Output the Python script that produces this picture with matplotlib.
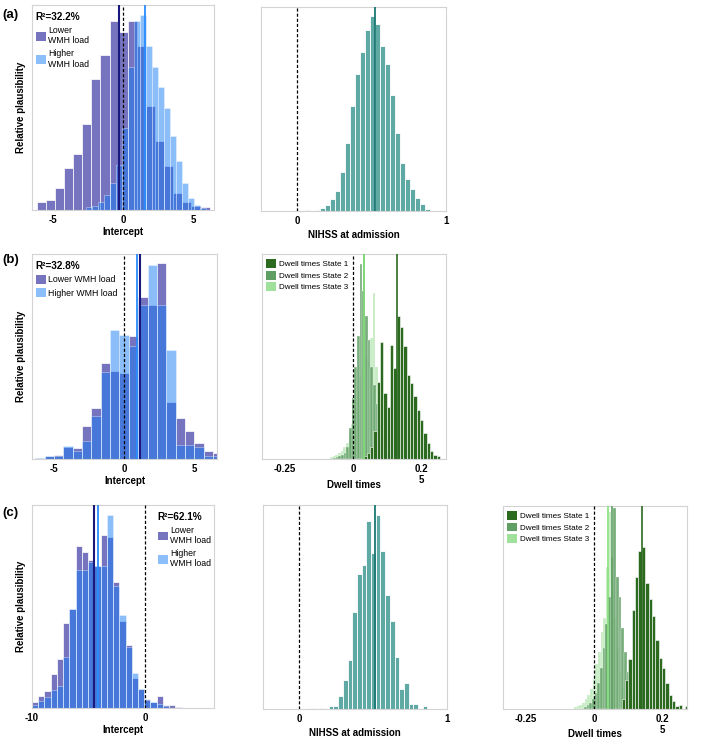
import numpy as np
import matplotlib
matplotlib.use('Agg')
import matplotlib.pyplot as plt
from matplotlib.patches import Patch

plt.rcParams['font.family'] = ['Liberation Sans', 'DejaVu Sans']

# ---------------- data ----------------
# (a) Intercept: Lower / Higher WMH load (relative plausibility)
a_lower_start, a_lower_width = -6.16, 0.65
a_lower = [0.037, 0.049, 0.106, 0.203, 0.272, 0.42, 0.637, 0.754, 0.923, 0.869,
           0.923, 0.80, 0.508, 0.336, 0.213, 0.082, 0.038, 0.021, 0.013]
a_higher_start, a_higher_width = -2.64, 0.43
a_higher = [0.013, 0.02, 0.04, 0.075, 0.13, 0.22, 0.40, 0.70, 0.92, 0.95,
            0.80, 0.70, 0.60, 0.50, 0.36, 0.24, 0.13, 0.06, 0.025, 0.01]
a_means = [-0.29, 1.57]
a_r2 = "R²=32.2%"

# (a) NIHSS at admission
a_nihss_start, a_nihss_width = 0.052, 0.0337
a_nihss = [0.005, 0.0, 0.003, 0.015, 0.03, 0.057, 0.10, 0.19, 0.334, 0.517, 0.67,
           0.777, 0.887, 0.954, 0.918, 0.81, 0.72, 0.57, 0.38, 0.233, 0.157,
           0.106, 0.064, 0.034, 0.008]
a_nihss_mean = 0.519

# (b) Intercept
b_start, b_width = -6.36, 0.667
b_lower = [0.003, 0.013, 0.02, 0.06, 0.055, 0.16, 0.25, 0.47, 0.427, 0.42,
           0.60, 0.79, 0.75, 0.955, 0.28, 0.20, 0.135, 0.08, 0.037, 0.03]
b_higher = [0.005, 0.013, 0.015, 0.065, 0.04, 0.09, 0.21, 0.425, 0.63, 0.605,
            0.55, 0.75, 0.946, 0.75, 0.53, 0.07, 0.07, 0.06, 0.015, 0.015]
b_means = [1.09, 0.86]
b_r2 = "R²=32.8%"

# (b) Dwell times
b_s1_start, b_s1_width = 0.038, 0.01225
b_s1 = [0.015, 0.03, 0.06, 0.135, 0.378, 0.573, 0.32, 0.256, 0.557, 0.443, 0.70,
        0.646, 0.55, 0.41, 0.37, 0.305, 0.24, 0.19, 0.127, 0.078, 0.037, 0.02, 0.013]
b_s2_start, b_s2_width = -0.074, 0.0098
b_s2 = [0.005, 0.01, 0.015, 0.02, 0.03, 0.06, 0.15, 0.30, 0.45, 0.60, 0.95,
        0.82, 0.70, 0.58, 0.45, 0.36, 0.27, 0.18, 0.11, 0.06, 0.03, 0.015]
b_s3_start, b_s3_width = -0.085, 0.0098
b_s3 = [0.01, 0.015, 0.02, 0.03, 0.04, 0.06, 0.08, 0.12, 0.17, 0.25, 0.33, 0.40,
        0.45, 0.50, 0.48, 0.59, 0.81, 0.45, 0.30, 0.15, 0.08, 0.04, 0.02]
b_dwell_means = [0.163, 0.040, 0.042]

# (c) Intercept
c_start, c_width = -10.0, 0.55
c_lower = [0.03, 0.058, 0.084, 0.166, 0.243, 0.42, 0.49, 0.80, 0.77, 0.73, 0.70,
           0.85, 0.84, 0.62, 0.43, 0.31, 0.15, 0.095, 0.046, 0.03, 0.058, 0.013,
           0.013, 0.005]
c_higher = [0.013, 0.035, 0.054, 0.09, 0.11, 0.25, 0.49, 0.68, 0.68, 0.72, 0.70,
            0.70, 0.95, 0.60, 0.457, 0.30, 0.17, 0.095, 0.038, 0.03, 0.018, 0.008]
c_means = [-4.53, -4.15]
c_r2 = "R²=62.1%"

# (c) NIHSS at admission
c_nihss_start, c_nihss_width = 0.073, 0.0318
c_nihss = [0.005, 0.0, 0.005, 0.0, 0.013, 0.013, 0.062, 0.144, 0.241, 0.475, 0.662,
           0.706, 0.92, 0.765, 0.95, 0.775, 0.56, 0.43, 0.254, 0.098, 0.127, 0.026,
           0.026, 0.0, 0.013]
c_nihss_mean = 0.516

# (c) Dwell times
c_s1_start, c_s1_width = 0.102, 0.0123
c_s1 = [0.05, 0.144, 0.246, 0.49, 0.65, 0.78, 0.80, 0.62, 0.54, 0.46, 0.34, 0.25,
        0.20, 0.13, 0.07, 0.04, 0.015, 0.02, 0.0, 0.015]
c_s2_start, c_s2_width = -0.037, 0.0098
c_s2 = [0.01, 0.02, 0.03, 0.05, 0.08, 0.13, 0.20, 0.30, 0.42, 0.55, 0.75, 0.99,
        0.65, 0.55, 0.40, 0.28, 0.18, 0.10, 0.06, 0.03, 0.015]
c_s3_start, c_s3_width = -0.074, 0.0098
c_s3 = [0.01, 0.015, 0.02, 0.03, 0.05, 0.07, 0.10, 0.15, 0.22, 0.28, 0.38, 0.45,
        0.70, 0.97, 0.60, 0.45, 0.30, 0.18, 0.10, 0.05, 0.03, 0.015]
c_dwell_means = [0.175, 0.067, 0.053]

group_labels_wrap = ["Lower\nWMH load", "Higher\nWMH load"]
group_labels_line = ["Lower WMH load", "Higher WMH load"]
state_labels = ["Dwell times State 1", "Dwell times State 2", "Dwell times State 3"]
panel_tags = ["(a)", "(b)", "(c)"]

# ---------------- style ----------------
C_LOW = '#7674be'
C_HIGH = '#197df5'
C_LOW_LINE = '#18187e'
C_HIGH_LINE = '#2a8cff'
C_TEAL = '#5fa9a5'
C_TEAL_LINE = '#1b7873'
C_S1 = '#2c6a20'
C_S2 = '#5f9f63'
C_S3 = '#9fe09a'
C_S3_LINE = '#86e07c'
SPINE = '#d3d3d3'

fig = plt.figure(figsize=(7.09, 7.40), dpi=100)


def axes_px(x0, y0, x1, y1):
    W, H = 709.0, 740.0
    return fig.add_axes([x0 / W, 1 - y1 / H, (x1 - x0) / W, (y1 - y0) / H])


def bars(ax, start, width, heights, **kw):
    left = start + width * np.arange(len(heights))
    return ax.bar(left, heights, width=width, align='edge', **kw)


def style(ax, xlim, ticks, labels, xlabel, label_y, ylabel=None):
    ax.set_xlim(*xlim)
    ax.set_ylim(0, 1)
    ax.set_yticks([])
    ax.set_xticks(ticks, labels)
    ax.tick_params(axis='x', length=0, pad=3.5, labelsize=7)
    for lab in ax.get_xticklabels():
        lab.set_fontweight('bold')
    for s in ax.spines.values():
        s.set_color(SPINE)
        s.set_linewidth(0.8)
    ax.set_xlabel(xlabel, fontsize=7, fontweight='bold', va='center')
    ax.xaxis.set_label_coords(0.5, label_y)
    if ylabel:
        ax.set_ylabel(ylabel, fontsize=7, fontweight='bold', va='center')
        ax.yaxis.set_label_coords(-0.058, 0.5)


def zero_line(ax):
    ax.axvline(0, color='black', lw=0.9, ls=(0, (2.5, 1.6)), zorder=4)


def intercept_panel(ax, lstart, lwidth, lower, hstart, hwidth, higher, means,
                    r2, labels, legend_anchor, xlim, ticks, ticklabels):
    bars(ax, lstart, lwidth, lower, color=C_LOW, edgecolor='white', linewidth=0.5)
    bars(ax, hstart, hwidth, higher, color=C_HIGH, alpha=0.5, edgecolor='white',
         linewidth=0.5)
    zero_line(ax)
    ax.axvline(means[0], color=C_LOW_LINE, lw=1.5, zorder=5)
    ax.axvline(means[1], color=C_HIGH_LINE, lw=1.3, zorder=5)
    handles = [Patch(facecolor=C_LOW), Patch(facecolor='#8cbefa')]
    ax.legend(handles, labels, loc='upper left', bbox_to_anchor=legend_anchor,
              frameon=False, fontsize=6.3, title=r2,
              title_fontproperties={'weight': 'bold', 'size': 7.2},
              alignment='left', handlelength=1.15, handleheight=1.2,
              handletextpad=0.3, labelspacing=0.45, borderpad=0.2,
              borderaxespad=0.0)
    style(ax, xlim, ticks, ticklabels, "Intercept", -0.108, "Relative plausibility")


def nihss_panel(ax, start, width, heights, mean):
    bars(ax, start, width, heights, color=C_TEAL, edgecolor='white', linewidth=0.6)
    zero_line(ax)
    ax.axvline(mean, color=C_TEAL_LINE, lw=1.3, zorder=5)
    style(ax, (-0.245, 1.0), [0, 1], ["0", "1"], "NIHSS at admission", -0.12)


def dwell_panel(ax, s1, s2, s3, means):
    bars(ax, s3[0], s3[1], s3[2], color=C_S3, alpha=0.6, edgecolor='white', linewidth=0.25)
    bars(ax, s2[0], s2[1], s2[2], color=C_S2, alpha=0.85, edgecolor='white', linewidth=0.25)
    bars(ax, s1[0], s1[1], s1[2], color=C_S1, edgecolor='white', linewidth=0.4)
    zero_line(ax)
    ax.axvline(means[0], color=C_S1, lw=1.2, zorder=5)
    ax.axvline(means[1], color=C_S2, lw=1.2, zorder=5)
    ax.axvline(means[2], color=C_S3_LINE, lw=1.2, zorder=5)
    handles = [Patch(facecolor=C_S1), Patch(facecolor=C_S2), Patch(facecolor=C_S3)]
    ax.legend(handles, state_labels, loc='upper left', bbox_to_anchor=(0.008, 0.99),
              frameon=False, fontsize=5.9, handlelength=1.2, handleheight=1.3,
              handletextpad=0.3, labelspacing=0.3, borderpad=0.35,
              borderaxespad=0.0)
    style(ax, (-0.335, 0.342), [-0.25, 0, 0.25], ["-0.25", "0", "0.2\n5"],
          "Dwell times", -0.125)


# Row (a)
ax_a1 = axes_px(32, 5, 214, 210)
intercept_panel(ax_a1, a_lower_start, a_lower_width, a_lower,
                a_higher_start, a_higher_width, a_higher, a_means, a_r2,
                group_labels_wrap, (0.01, 0.975), (-6.5, 6.5), [-5, 0, 5], ["-5", "0", "5"])
ax_a2 = axes_px(261, 7, 446, 211)
nihss_panel(ax_a2, a_nihss_start, a_nihss_width, a_nihss, a_nihss_mean)

# Row (b)
ax_b1 = axes_px(32, 254, 217, 459)
intercept_panel(ax_b1, b_start, b_width, b_lower, b_start, b_width, b_higher,
                b_means, b_r2, group_labels_line, (0.01, 0.975), (-6.6, 6.6),
                [-5, 0, 5], ["-5", "0", "5"])
ax_b2 = axes_px(262, 254, 446, 459)
dwell_panel(ax_b2, (b_s1_start, b_s1_width, b_s1), (b_s2_start, b_s2_width, b_s2),
            (b_s3_start, b_s3_width, b_s3), b_dwell_means)

# Row (c)
ax_c1 = axes_px(32, 505, 214, 708)
intercept_panel(ax_c1, c_start, c_width, c_lower, c_start, c_width, c_higher,
                c_means, c_r2, group_labels_wrap, (0.68, 0.975), (-10, 6.05),
                [-10, 0], ["-10", "0"])
ax_c2 = axes_px(263, 505, 447, 709)
nihss_panel(ax_c2, c_nihss_start, c_nihss_width, c_nihss, c_nihss_mean)
ax_c3 = axes_px(503, 506, 687, 709)
dwell_panel(ax_c3, (c_s1_start, c_s1_width, c_s1), (c_s2_start, c_s2_width, c_s2),
            (c_s3_start, c_s3_width, c_s3), c_dwell_means)

for tag, ypx in zip(panel_tags, [15, 260, 513]):
    fig.text(2 / 709, 1 - ypx / 740, tag, fontsize=9.5, fontweight='bold',
             ha='left', va='center')

fig.savefig('out.png', dpi=100)
